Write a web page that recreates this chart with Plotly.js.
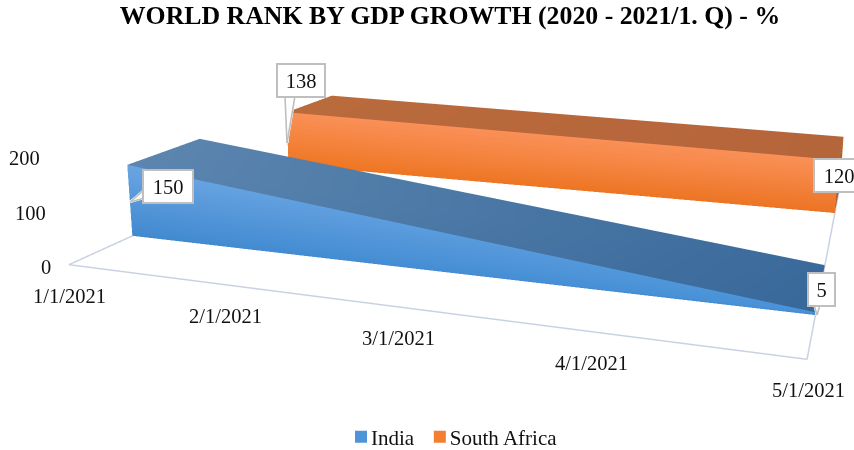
<!DOCTYPE html>
<html><head><meta charset="utf-8">
<script src="https://cdn.plot.ly/plotly-3.0.1.min.js"></script>
<style>html,body{margin:0;padding:0;background:#fff;width:854px;height:450px;overflow:hidden}
#c{position:absolute;left:-201px;top:-327px;width:1400px;height:942px}</style></head>
<body><div id="c"></div>
<script>
var dates=["1/1/2021","2/1/2021","3/1/2021","4/1/2021","5/1/2021"];
var zTicks=[0,100,200];
var india=[150,5];
var southAfrica=[138,120];
var seriesNames=["India","South Africa"];
var W=1400,H=942,OX=201,OY=327;
function px(x){return (x+OX)/W;}
function py(y){return 1-(y+OY)/H;}
var FONT='Liberation Serif', FS=20.5;
var lt={ambient:1,diffuse:0,specular:0,fresnel:0,roughness:1};
var last=dates.length-1;
function quad(x,y,z,c){return {type:'mesh3d',x:x,y:y,z:z,i:[0,0],j:[1,2],k:[2,3],vertexcolor:c,lighting:lt,hoverinfo:'skip',showlegend:false};}
function slab(v,y0,y1,cf,ct,ce){
 return [quad([0,last,last,0],[y0,y0,y0,y0],[0,0,v[1],v[0]],cf),
  quad([0,last,last,0],[y0,y0,y1,y1],[v[0],v[1],v[1],v[0]],ct),
  quad([last,last,last,last],[y0,y1,y1,y0],[0,0,v[1],v[1]],[ce,ce,ce,ce])];
}
var Y=[0.175,0.409,0.762,0.99];
var floorLine={type:'scatter3d',mode:'lines',x:[0,0,last,last],y:[Y[3],0,0,Y[3]],z:[0,0,0,0],line:{color:'#c9d2e2',width:3},hoverinfo:'skip',showlegend:false};
function legendTrace(name,color){return {type:'scatter3d',mode:'markers',name:name,x:[null],y:[null],z:[null],marker:{symbol:'square',size:12,color:color},hoverinfo:'skip',showlegend:true};}
var traces=[floorLine].concat(
 slab(india,Y[0],Y[1],['#4189cf','#448dd2','#4a93d8','#6ba5e2'],['#5c86b0','#38689a','#3a6a9b','#5a84ae'],'#2f5f90'),
 slab(southAfrica,Y[2],Y[3],['#ee7622','#ec7424','#fa9058','#fa9058'],['#ba6b3c','#b5653a','#b5653a','#ba6b3c'],'#b5602a'),
 [legendTrace(seriesNames[0],'#4f94d8'),legendTrace(seriesNames[1],'#f47f30')]);
var ax={showgrid:false,zeroline:false,showspikes:false,showbackground:false,showline:false,showticklabels:false,ticks:'',title:{text:''}};
var tf={family:FONT,size:FS,color:'#111'};
var sceneAnn=[];
var zNudgeY=[-2,1,4];
dates.forEach(function(d,i){sceneAnn.push({x:i,y:0,z:0,text:d,showarrow:false,yshift:-31,xshift:1,font:tf});});
zTicks.forEach(function(v,i){sceneAnn.push({x:0,y:0,z:v,text:String(v),showarrow:false,xanchor:'right',xshift:-16-i,yshift:zNudgeY[i],font:tf});});
var ann=[];
function pointerLine(tip,c,color,w){ann.push({xref:'paper',yref:'paper',x:px(tip[0]),y:py(tip[1]),ax:c[0]-tip[0],ay:c[1]-tip[1],text:' ',font:{size:1},xanchor:'center',yanchor:'middle',showarrow:true,arrowhead:0,arrowwidth:w,arrowcolor:color,standoff:0});}
function pointer(tip,a,b){
 for(var k=0;k<=6;k++){pointerLine(tip,[a[0]+(b[0]-a[0])*k/6,a[1]+(b[1]-a[1])*k/6],'#ffffff',2.2);}
 pointerLine(tip,a,'#bfbfbf',1.6);pointerLine(tip,b,'#bfbfbf',1.6);
}
function box(text,cx,cy,w,h){ann.push({xref:'paper',yref:'paper',x:px(cx),y:py(cy),xanchor:'center',yanchor:'middle',text:text,showarrow:false,width:w,height:h,align:'center',valign:'middle',bgcolor:'#fff',bordercolor:'#bfbfbf',borderwidth:2,borderpad:0,font:tf});}
pointer([130,202],[144,190],[144,198]); box(String(india[0]),168,186.5,48,31);
pointer([287,143],[285,96],[295,96]); box(String(southAfrica[0]),301,80.5,46,31);
box(String(southAfrica[1]),839,175.5,48,31);
pointer([817,315],[814,305],[820,305]); box(String(india[1]),821.5,289.5,25,31);
var layout={width:W,height:H,margin:{l:0,r:0,t:0,b:0},paper_bgcolor:'#fff',
 title:{text:'<b>WORLD RANK BY GDP GROWTH (2020 - 2021/1. Q) - %</b>',font:{family:FONT,size:25.8,color:'#000'},xref:'paper',yref:'paper',x:px(450),xanchor:'center',y:py(15),yanchor:'middle'},
 showlegend:true,
 legend:{orientation:'h',x:px(341),xanchor:'left',y:py(437),yanchor:'middle',font:{family:FONT,size:21,color:'#111'},itemwidth:30,bgcolor:'rgba(0,0,0,0)'},
 annotations:ann,
 scene:{domain:{x:[0,1],y:[0,1]},aspectmode:'manual',aspectratio:{x:3,y:2.447,z:0.443},
  camera:{eye:{x:1.670,y:-4.939,z:1.324},center:{x:-0.214,y:0.591,z:0.007},up:{x:-0.284,y:0.827,z:1}},
  xaxis:Object.assign({},ax,{range:[0,last]}),yaxis:Object.assign({},ax,{range:[0,1]}),zaxis:Object.assign({},ax,{range:[0,200]}),
  annotations:sceneAnn}};
Plotly.newPlot('c',traces,layout,{displayModeBar:false}).then(function(){
 // tighten the legend: swatch-to-text gap as in the reference
 var items=document.querySelectorAll('.legend .traces');
 items.forEach(function(el,i){
  var tx=el.querySelector('.legendtext');
  if(tx){tx.setAttribute('x',String(parseFloat(tx.getAttribute('x'))-10));}
  if(i>0){var m=/translate\(([-\d.]+),\s*([-\d.]+)\)/.exec(el.getAttribute('transform'));
   if(m){el.setAttribute('transform','translate('+(parseFloat(m[1])-10*i)+','+m[2]+')');}}
 });
});
</script></body></html>
